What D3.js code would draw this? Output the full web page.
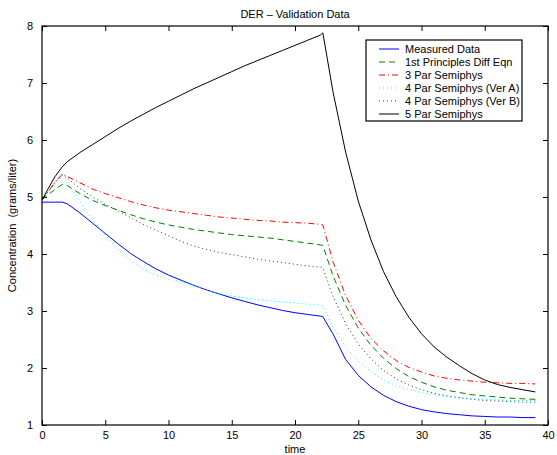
<!DOCTYPE html>
<html>
<head>
<meta charset="utf-8">
<script src="https://cdn.jsdelivr.net/npm/d3@7"></script>
<style>
  body { margin: 0; background: #fff; }
  text { font-family: "Liberation Sans", Arial, Helvetica, sans-serif; }
</style>
</head>
<body>
<div id="chart"></div>
<script>
var svgWidth = 557;
var svgHeight = 455;

var margin = { top: 26, right: 9, bottom: 30, left: 42 };
var width = svgWidth - margin.left - margin.right;
var height = svgHeight - margin.top - margin.bottom;

// time samples shared by all series
var time = [0, 0.5, 1, 1.6, 2, 3, 4, 5, 6, 7, 8, 9, 10, 11, 12, 13, 14, 15, 16, 17, 18, 19, 20, 21, 22, 22.2,
  23, 24, 25, 26, 27, 28, 29, 30, 31, 32, 33, 34, 35, 36, 37, 38, 39];

var measured = [4.91, 4.91, 4.91, 4.91, 4.88, 4.72, 4.54, 4.36, 4.18, 4.01, 3.87, 3.74, 3.63, 3.54, 3.45, 3.37, 3.30, 3.23, 3.17, 3.11, 3.06, 3.01, 2.97, 2.94, 2.91, 2.90,
  2.60, 2.15, 1.87, 1.67, 1.52, 1.41, 1.33, 1.27, 1.23, 1.20, 1.18, 1.16, 1.15, 1.14, 1.14, 1.13, 1.13];
var firstPrinciples = [4.95, 5.04, 5.13, 5.22, 5.20, 5.06, 4.94, 4.85, 4.77, 4.69, 4.62, 4.56, 4.51, 4.47, 4.43, 4.40, 4.37, 4.34, 4.32, 4.30, 4.28, 4.25, 4.22, 4.19, 4.16, 4.15,
  3.62, 3.10, 2.70, 2.40, 2.17, 1.99, 1.85, 1.75, 1.67, 1.61, 1.57, 1.53, 1.51, 1.49, 1.47, 1.46, 1.45];
var par3 = [4.95, 5.10, 5.25, 5.40, 5.36, 5.25, 5.14, 5.06, 4.99, 4.92, 4.86, 4.81, 4.77, 4.74, 4.71, 4.68, 4.65, 4.63, 4.61, 4.59, 4.58, 4.56, 4.55, 4.54, 4.52, 4.51,
  3.87, 3.27, 2.84, 2.52, 2.30, 2.13, 2.01, 1.93, 1.86, 1.82, 1.79, 1.77, 1.75, 1.74, 1.73, 1.73, 1.72];
var par4A = [4.95, 5.09, 5.23, 5.38, 5.25, 4.93, 4.60, 4.33, 4.08, 3.88, 3.73, 3.63, 3.56, 3.51, 3.45, 3.37, 3.30, 3.26, 3.23, 3.20, 3.18, 3.16, 3.14, 3.12, 3.10, 3.09,
  2.72, 2.37, 2.12, 1.93, 1.79, 1.69, 1.62, 1.57, 1.53, 1.50, 1.48, 1.46, 1.45, 1.44, 1.43, 1.43, 1.43];
var par4B = [4.95, 5.10, 5.25, 5.40, 5.33, 5.15, 5.00, 4.87, 4.76, 4.64, 4.52, 4.42, 4.32, 4.22, 4.14, 4.08, 4.03, 3.99, 3.95, 3.91, 3.88, 3.85, 3.82, 3.79, 3.77, 3.76,
  3.26, 2.78, 2.42, 2.16, 1.96, 1.81, 1.70, 1.62, 1.56, 1.51, 1.48, 1.45, 1.43, 1.42, 1.41, 1.40, 1.40];
var par5 = [4.95, 5.15, 5.35, 5.53, 5.62, 5.78, 5.92, 6.06, 6.20, 6.33, 6.45, 6.57, 6.68, 6.79, 6.90, 7.00, 7.10, 7.20, 7.30, 7.39, 7.48, 7.57, 7.66, 7.75, 7.84, 7.88,
  6.85, 5.79, 4.93, 4.25, 3.69, 3.25, 2.89, 2.60, 2.37, 2.19, 2.04, 1.90, 1.79, 1.71, 1.66, 1.62, 1.58];

var seriesNames = ["Measured Data", "1st Principles Diff Eqn", "3 Par Semiphys",
  "4 Par Semiphys (Ver A)", "4 Par Semiphys (Ver B)", "5 Par Semiphys"];
var seriesValues = [measured, firstPrinciples, par3, par4A, par4B, par5];
var seriesColors = ["#0000ff", "#008000", "#ff0000", "#00ffff", "#333333", "#000000"];
var seriesDash = [null, "6,4", "6,3,1,3", "1,3", "1,3", null];

var xTicks = [0, 5, 10, 15, 20, 25, 30, 35, 40];
var yTicks = [1, 2, 3, 4, 5, 6, 7, 8];

var svg = d3.select("#chart")
  .append("svg")
  .attr("width", svgWidth)
  .attr("height", svgHeight);

var chartGroup = svg.append("g")
  .attr("transform", `translate(${margin.left}, ${margin.top})`);

var xLinearScale = d3.scaleLinear().domain([0, 40]).range([0, width]);
var yLinearScale = d3.scaleLinear().domain([1, 8]).range([height, 0]);

// axes, MATLAB style: inward ticks on all four sides
function styleAxis(g) {
  g.select(".domain").remove();
  g.selectAll(".tick line").attr("stroke", "#000");
  g.selectAll(".tick text").style("font-size", "11px").attr("fill", "#000");
}

chartGroup.append("g")
  .attr("transform", `translate(0, ${height})`)
  .call(d3.axisBottom(xLinearScale).tickValues(xTicks).tickSizeInner(-5).tickSizeOuter(0).tickPadding(6).tickFormat(d3.format("d")))
  .call(styleAxis);

chartGroup.append("g")
  .call(d3.axisTop(xLinearScale).tickValues(xTicks).tickSizeInner(-5).tickSizeOuter(0).tickFormat(""))
  .call(styleAxis);

chartGroup.append("g")
  .call(d3.axisLeft(yLinearScale).tickValues(yTicks).tickSizeInner(-5).tickSizeOuter(0).tickPadding(9).tickFormat(d3.format("d")))
  .call(styleAxis);

chartGroup.append("g")
  .attr("transform", `translate(${width}, 0)`)
  .call(d3.axisRight(yLinearScale).tickValues(yTicks).tickSizeInner(-5).tickSizeOuter(0).tickFormat(""))
  .call(styleAxis);

chartGroup.append("rect")
  .attr("x", 0).attr("y", 0)
  .attr("width", width).attr("height", height)
  .attr("fill", "none")
  .attr("stroke", "#000")
  .attr("stroke-width", 1.2);

// series lines
var line = d3.line()
  .x((d, i) => xLinearScale(time[i]))
  .y(d => yLinearScale(d));

seriesValues.forEach(function(vals, k) {
  chartGroup.append("path")
    .datum(vals)
    .attr("d", line)
    .attr("fill", "none")
    .attr("stroke", seriesColors[k])
    .attr("stroke-width", 1)
    .attr("stroke-dasharray", seriesDash[k]);
});

// title and labels
svg.append("text")
  .attr("x", margin.left + width / 2)
  .attr("y", 18)
  .attr("text-anchor", "middle")
  .style("font-size", "11px")
  .text("DER \u2013 Validation Data");

svg.append("text")
  .attr("x", margin.left + width / 2)
  .attr("y", 453)
  .attr("text-anchor", "middle")
  .style("font-size", "11px")
  .text("time");

svg.append("text")
  .attr("transform", `translate(16, ${margin.top + height / 2}) rotate(-90)`)
  .attr("text-anchor", "middle")
  .style("font-size", "11px")
  .style("white-space", "pre")
  .text("Concentration  (grams/liter)");

// legend
var legend = svg.append("g").attr("transform", "translate(366, 40)");
legend.append("rect")
  .attr("width", 156).attr("height", 81)
  .attr("fill", "#fff")
  .attr("stroke", "#000")
  .attr("stroke-width", 1.2);

seriesNames.forEach(function(name, k) {
  var y = 9 + k * 13;
  legend.append("line")
    .attr("x1", 13).attr("x2", 33)
    .attr("y1", y).attr("y2", y)
    .attr("stroke", seriesColors[k])
    .attr("stroke-width", 1)
    .attr("stroke-dasharray", seriesDash[k]);
  legend.append("text")
    .attr("x", 39).attr("y", y + 4)
    .style("font-size", "11px")
    .text(name);
});
</script>
</body>
</html>
